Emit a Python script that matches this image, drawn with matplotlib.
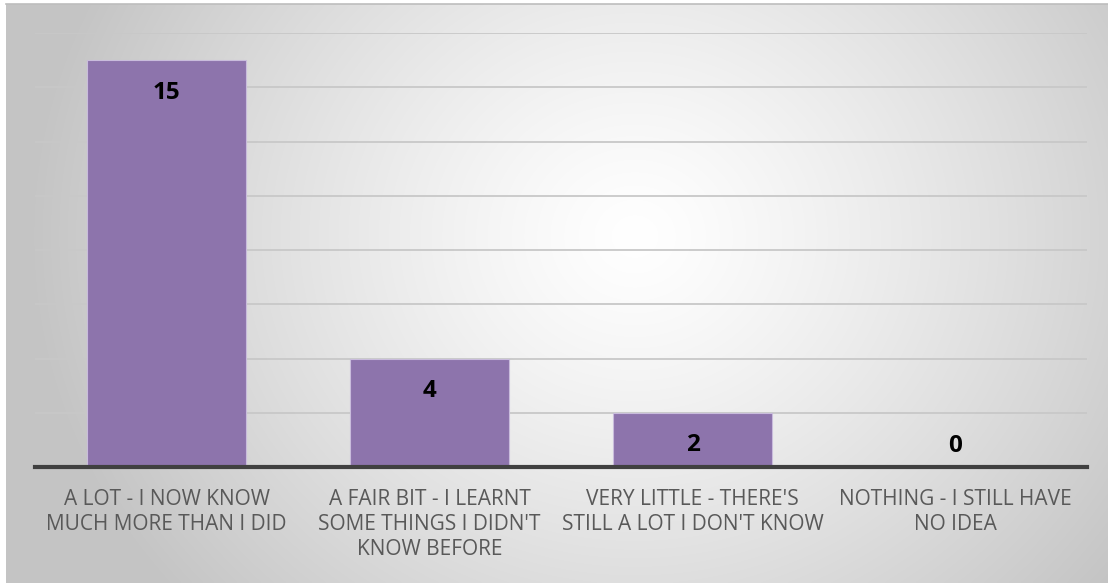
import numpy as np
import matplotlib
matplotlib.use("Agg")
import matplotlib.pyplot as plt

categories = ["A LOT - I NOW KNOW\nMUCH MORE THAN I DID",
              "A FAIR BIT - I LEARNT\nSOME THINGS I DIDN'T\nKNOW BEFORE",
              "VERY LITTLE - THERE'S\nSTILL A LOT I DON'T KNOW",
              "NOTHING - I STILL HAVE\nNO IDEA"]
values = [15, 4, 2, 0]
y_max = 16
y_step = 2

W, H = 1108, 585
fig = plt.figure(figsize=(W / 100, H / 100), dpi=100)
fig.patch.set_facecolor("white")

# radial gradient background
bg = fig.add_axes([6 / W, 2 / H, 1 - 6 / W, 1 - 6 / H])
bg.set_axis_off()
ny, nx = 300, 560
yy, xx = np.mgrid[0:ny, 0:nx]
cx, cy = nx * 0.57, ny * 0.40
r = np.sqrt(((xx - cx) / (nx * 0.55)) ** 2 + ((yy - cy) / (ny * 0.95)) ** 2)
r = np.clip(r, 0, 1)
val = 1.0 - 0.23 * r ** 1.25
img = np.dstack([val, val, val])
bg.imshow(img, aspect="auto", extent=[0, 1, 0, 1], interpolation="bilinear")
bg.set_xlim(0, 1); bg.set_ylim(0, 1)
bg.plot([0, 1], [1, 1], color="#bdbdbd", lw=1.2, transform=bg.transAxes, clip_on=False)

ax = fig.add_axes([35 / W, 1 - 467 / H, (1087 - 35) / W, (467 - 33) / H])
ax.set_facecolor("none")
x = np.arange(len(categories))
ax.bar(x, values, width=0.605, color="#8D74AC", edgecolor="#c9bcdc", linewidth=0.8, zorder=3)
ax.set_xlim(-0.5, len(categories) - 0.5)
ax.set_ylim(0, y_max)
ax.set_yticks(np.arange(y_step, y_max + 1, y_step))
ax.yaxis.grid(True, color="#c8c8c8", linewidth=1.3, zorder=0)
ax.tick_params(axis="y", left=False, labelleft=False)
ax.tick_params(axis="x", bottom=False, pad=12.5)
for s in ["top", "right", "left"]:
    ax.spines[s].set_visible(False)
ax.spines["bottom"].set_color("#404040")
ax.spines["bottom"].set_linewidth(3)
ax.spines["bottom"].set_zorder(4)
ax.set_xticks(x)
ax.set_xticklabels(categories, fontsize=15, color="#595959", family="Open Sans",
                   linespacing=1.23, va="top")

for xi, v in zip(x, values):
    off = -38.5 if v > 0 else 15
    ax.annotate(str(v), (xi, v), xytext=(0, off * 0.72), textcoords="offset points",
                ha="center", va="baseline", fontsize=17.5, fontweight="bold",
                color="black", family="Open Sans", zorder=5)

fig.savefig("out.png", dpi=100, facecolor="white")
